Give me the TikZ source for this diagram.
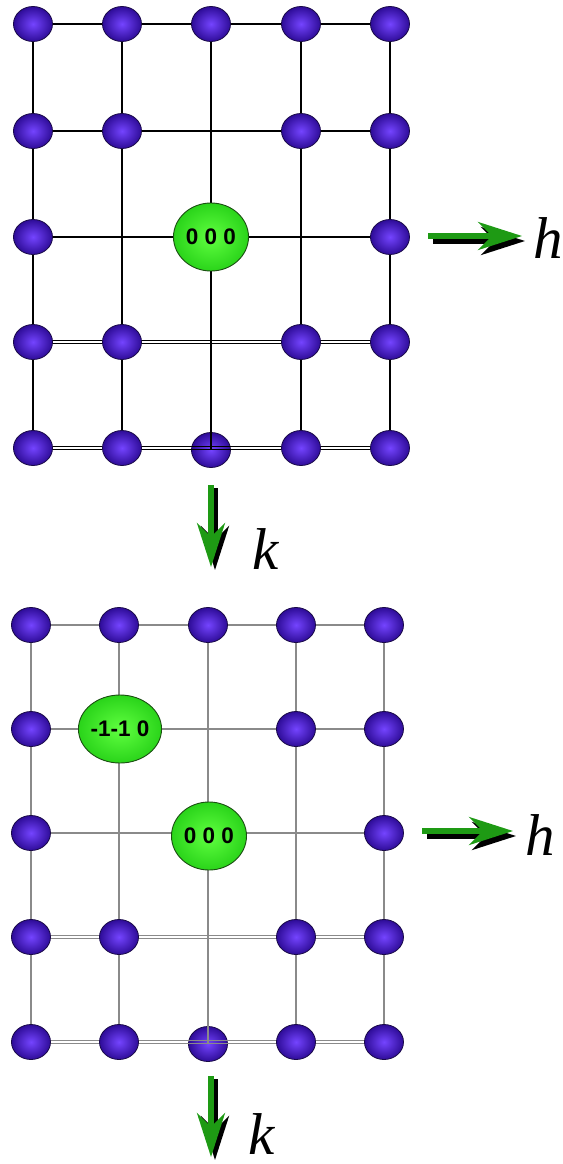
\documentclass[tikz,border=0pt]{standalone}
\usepackage{fontspec}
\setmainfont{Liberation Serif}
\newfontfamily\lblfont{Liberation Sans}
\usetikzlibrary{shapes.geometric,arrows.meta,backgrounds}
\definecolor{ballin}{HTML}{7444FF}
\definecolor{ballout}{HTML}{2E0C98}
\definecolor{balledge}{HTML}{1A0A48}
\definecolor{grin}{HTML}{60FF40}
\definecolor{grout}{HTML}{2AD41A}
\definecolor{gredge}{HTML}{1B4E12}
\definecolor{arrgreen}{HTML}{1E9A14}
\definecolor{gridgray}{HTML}{8A8A8A}
\tikzset{
  ball/.style={ellipse, minimum width=39pt, minimum height=35pt, inner sep=0pt,
    draw=balledge, line width=0.8pt, inner color=ballin, outer color=ballout},
  spot/.style={ellipse, minimum width=75pt, minimum height=68pt, inner sep=0pt,
    draw=gredge, line width=0.9pt, inner color=grin, outer color=grout,
    font=\lblfont\bfseries\fontsize{22.5}{24}\selectfont},
  gridA/.style={black, line width=1.1pt},
  gridAd/.style={black, line width=0.8pt},
  gridB/.style={gridgray, line width=1.1pt},
  gridBd/.style={gridgray, line width=0.8pt},
  arrshadow/.style={black, line width=5.5pt, -{Stealth[length=44pt,width=28pt,inset=14pt]}},
  arrmain/.style={arrgreen, line width=5.5pt, -{Stealth[length=44pt,width=28pt,inset=14pt]}},
  axlabel/.style={font=\itshape\fontsize{59}{59}\selectfont, inner sep=0pt, anchor=base west}
}
\begin{document}
\begin{tikzpicture}[x=1pt,y=-1pt]
\useasboundingbox (0,0) rectangle (562,1164);
% ---------- top grid ----------
\foreach \c/\x in {0/33,1/122,2/211,3/301,4/390} { \node[ball] (t0\c) at (\x,24) {}; }
\foreach \c/\x in {0/33,1/122,3/301,4/390} { \node[ball] (t1\c) at (\x,131) {}; }
\node[ball] (t20) at (33,237) {};
\node[ball] (t24) at (390,237) {};
\foreach \c/\x in {0/33,1/122,3/301,4/390} { \node[ball] (t3\c) at (\x,342) {}; }
\foreach \c/\x in {0/33,1/122,3/301,4/390} { \node[ball] (t4\c) at (\x,448) {}; }
\node[spot] (t22) at (211,237) {0 0 0};
\begin{pgfonlayer}{background}
  \node[ball] (t42) at (211,450) {};
  \draw[gridA] (t00.center) -- (t04.center);
  \draw[gridA] (t10.center) -- (t14.center);
  \draw[gridA] (t20.center) -- (t24.center);
  \draw[gridAd] ([yshift=1.2pt]t30.center) -- ([yshift=1.2pt]t34.center);
  \draw[gridAd] ([yshift=-1.2pt]t30.center) -- ([yshift=-1.2pt]t34.center);
  \draw[gridAd] ([yshift=1.2pt]t40.center) -- ([yshift=1.2pt]t44.center);
  \draw[gridAd] ([yshift=-1.2pt]t40.center) -- ([yshift=-1.2pt]t44.center);
  \draw[gridA] (t00.center) -- (t40.center);
  \draw[gridA] (t01.center) -- (t41.center);
  \draw[gridA] (t02.center) -- (t42.center);
  \draw[gridA] (t03.center) -- (t43.center);
  \draw[gridA] (t04.center) -- (t44.center);
\end{pgfonlayer}
% top axes
\coordinate (th1) at (428,236); \coordinate (th2) at (522,236);
\coordinate (ths1) at (433,241); \coordinate (ths2) at (525,241);
\draw[arrshadow] (ths1) -- (ths2);
\draw[arrmain] (th1) -- (th2);
\node[axlabel] (hlab1) at (533,258) {h};
\coordinate (tk1) at (211,485); \coordinate (tk2) at (211,567);
\coordinate (tks1) at (215,488); \coordinate (tks2) at (215,570);
\draw[arrshadow] (tks1) -- (tks2);
\draw[arrmain] (tk1) -- (tk2);
\node[axlabel] (klab1) at (252,569) {k};
% ---------- bottom grid ----------
\foreach \c/\x in {0/31,1/119,2/208,3/296,4/384} { \node[ball] (b0\c) at (\x,625) {}; }
\node[ball] (b10) at (31,729) {};
\node[ball] (b13) at (296,729) {};
\node[ball] (b14) at (384,729) {};
\node[ball] (b20) at (31,833) {};
\node[ball] (b24) at (384,833) {};
\foreach \c/\x in {0/31,1/119,3/296,4/384} { \node[ball] (b3\c) at (\x,937) {}; }
\foreach \c/\x in {0/31,1/119,3/296,4/384} { \node[ball] (b4\c) at (\x,1042) {}; }
\node[spot] (b11) at (120,729) {-1-1 0};
\node[spot] (b22) at (209,836) {0 0 0};
\begin{pgfonlayer}{background}
  \node[ball] (b42) at (208,1044) {};
  \draw[gridB] (b00.center) -- (b04.center);
  \draw[gridB] (b10.center) -- (b14.center);
  \draw[gridB] (b20.center) -- (b24.center);
  \draw[gridBd] ([yshift=1.2pt]b30.center) -- ([yshift=1.2pt]b34.center);
  \draw[gridBd] ([yshift=-1.2pt]b30.center) -- ([yshift=-1.2pt]b34.center);
  \draw[gridBd] ([yshift=1.2pt]b40.center) -- ([yshift=1.2pt]b44.center);
  \draw[gridBd] ([yshift=-1.2pt]b40.center) -- ([yshift=-1.2pt]b44.center);
  \draw[gridB] (b00.center) -- (b40.center);
  \draw[gridB] (b01.center) -- (b41.center);
  \draw[gridB] (b02.center) -- (b42.center);
  \draw[gridB] (b03.center) -- (b43.center);
  \draw[gridB] (b04.center) -- (b44.center);
\end{pgfonlayer}
% bottom axes
\coordinate (bh1) at (422,831); \coordinate (bh2) at (513,831);
\coordinate (bhs1) at (427,836); \coordinate (bhs2) at (516,836);
\draw[arrshadow] (bhs1) -- (bhs2);
\draw[arrmain] (bh1) -- (bh2);
\node[axlabel] (hlab2) at (525,855) {h};
\coordinate (bk1) at (211,1076); \coordinate (bk2) at (211,1157);
\coordinate (bks1) at (215,1079); \coordinate (bks2) at (215,1160);
\draw[arrshadow] (bks1) -- (bks2);
\draw[arrmain] (bk1) -- (bk2);
\node[axlabel] (klab2) at (248,1154) {k};
\end{tikzpicture}
\end{document}
